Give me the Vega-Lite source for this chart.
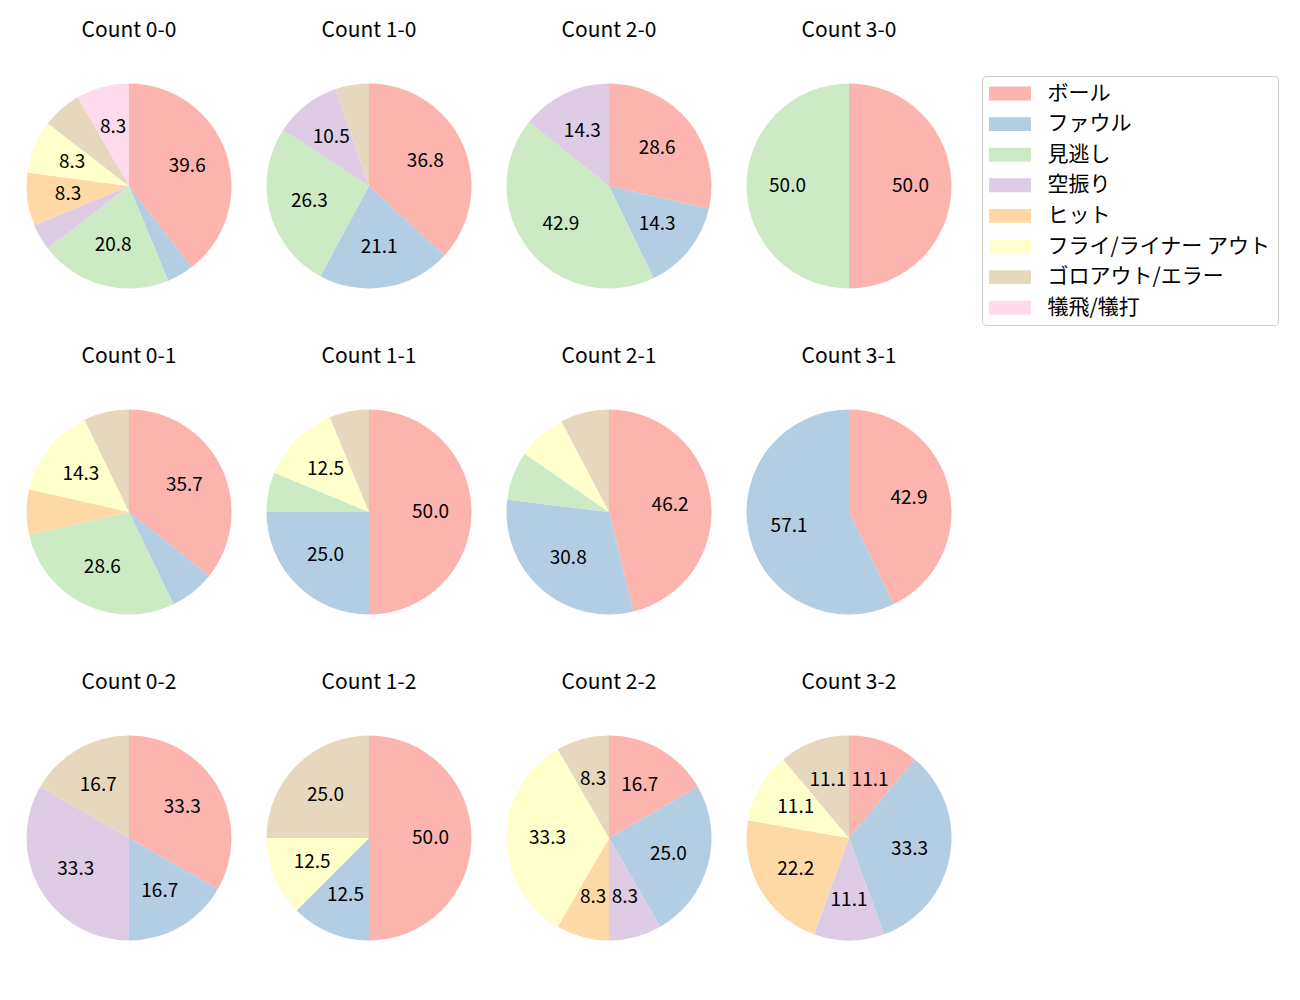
{
  "$schema": "https://vega.github.io/schema/vega-lite/v6.json",
  "padding": {"left": 19, "top": 20, "right": 0, "bottom": 0},
  "data": {"values": [
    {"c": "Count 0-0", "k": "ボール", "n": 19},
    {"c": "Count 0-0", "k": "ファウル", "n": 2},
    {"c": "Count 0-0", "k": "見逃し", "n": 10},
    {"c": "Count 0-0", "k": "空振り", "n": 2},
    {"c": "Count 0-0", "k": "ヒット", "n": 4},
    {"c": "Count 0-0", "k": "フライ/ライナー アウト", "n": 4},
    {"c": "Count 0-0", "k": "ゴロアウト/エラー", "n": 3},
    {"c": "Count 0-0", "k": "犠飛/犠打", "n": 4},
    {"c": "Count 1-0", "k": "ボール", "n": 7},
    {"c": "Count 1-0", "k": "ファウル", "n": 4},
    {"c": "Count 1-0", "k": "見逃し", "n": 5},
    {"c": "Count 1-0", "k": "空振り", "n": 2},
    {"c": "Count 1-0", "k": "ゴロアウト/エラー", "n": 1},
    {"c": "Count 2-0", "k": "ボール", "n": 2},
    {"c": "Count 2-0", "k": "ファウル", "n": 1},
    {"c": "Count 2-0", "k": "見逃し", "n": 3},
    {"c": "Count 2-0", "k": "空振り", "n": 1},
    {"c": "Count 3-0", "k": "ボール", "n": 1},
    {"c": "Count 3-0", "k": "見逃し", "n": 1},
    {"c": "Count 0-1", "k": "ボール", "n": 5},
    {"c": "Count 0-1", "k": "ファウル", "n": 1},
    {"c": "Count 0-1", "k": "見逃し", "n": 4},
    {"c": "Count 0-1", "k": "ヒット", "n": 1},
    {"c": "Count 0-1", "k": "フライ/ライナー アウト", "n": 2},
    {"c": "Count 0-1", "k": "ゴロアウト/エラー", "n": 1},
    {"c": "Count 1-1", "k": "ボール", "n": 8},
    {"c": "Count 1-1", "k": "ファウル", "n": 4},
    {"c": "Count 1-1", "k": "見逃し", "n": 1},
    {"c": "Count 1-1", "k": "フライ/ライナー アウト", "n": 2},
    {"c": "Count 1-1", "k": "ゴロアウト/エラー", "n": 1},
    {"c": "Count 2-1", "k": "ボール", "n": 6},
    {"c": "Count 2-1", "k": "ファウル", "n": 4},
    {"c": "Count 2-1", "k": "見逃し", "n": 1},
    {"c": "Count 2-1", "k": "フライ/ライナー アウト", "n": 1},
    {"c": "Count 2-1", "k": "ゴロアウト/エラー", "n": 1},
    {"c": "Count 3-1", "k": "ボール", "n": 3},
    {"c": "Count 3-1", "k": "ファウル", "n": 4},
    {"c": "Count 0-2", "k": "ボール", "n": 2},
    {"c": "Count 0-2", "k": "ファウル", "n": 1},
    {"c": "Count 0-2", "k": "空振り", "n": 2},
    {"c": "Count 0-2", "k": "ゴロアウト/エラー", "n": 1},
    {"c": "Count 1-2", "k": "ボール", "n": 4},
    {"c": "Count 1-2", "k": "ファウル", "n": 1},
    {"c": "Count 1-2", "k": "フライ/ライナー アウト", "n": 1},
    {"c": "Count 1-2", "k": "ゴロアウト/エラー", "n": 2},
    {"c": "Count 2-2", "k": "ボール", "n": 2},
    {"c": "Count 2-2", "k": "ファウル", "n": 3},
    {"c": "Count 2-2", "k": "空振り", "n": 1},
    {"c": "Count 2-2", "k": "ヒット", "n": 1},
    {"c": "Count 2-2", "k": "フライ/ライナー アウト", "n": 4},
    {"c": "Count 2-2", "k": "ゴロアウト/エラー", "n": 1},
    {"c": "Count 3-2", "k": "ボール", "n": 1},
    {"c": "Count 3-2", "k": "ファウル", "n": 3},
    {"c": "Count 3-2", "k": "空振り", "n": 1},
    {"c": "Count 3-2", "k": "ヒット", "n": 2},
    {"c": "Count 3-2", "k": "フライ/ライナー アウト", "n": 1},
    {"c": "Count 3-2", "k": "ゴロアウト/エラー", "n": 1}
  ]},
  "transform": [
    {"joinaggregate": [{"op": "sum", "field": "n", "as": "total"}], "groupby": ["c"]},
    {"calculate": "datum.n / datum.total * 100", "as": "pct"},
    {"calculate": "datum.pct >= 8 ? format(datum.pct, '.1f') : ''", "as": "lbl"},
    {"calculate": "indexof(['ボール','ファウル','見逃し','空振り','ヒット','フライ/ライナー アウト','ゴロアウト/エラー','犠飛/犠打'], datum.k)", "as": "ord"}
  ],
  "facet": {
    "field": "c", "type": "nominal",
    "sort": ["Count 0-0","Count 1-0","Count 2-0","Count 3-0","Count 0-1","Count 1-1","Count 2-1","Count 3-1","Count 0-2","Count 1-2","Count 2-2","Count 3-2"],
    "header": {"title": null, "labelFont": "Noto Sans CJK JP", "labelFontSize": 21, "labelColor": "#000000", "labelBaseline": "middle", "labelPadding": 24}
  },
  "columns": 4,
  "spacing": {"row": 50, "column": 20},
  "spec": {
    "width": 220,
    "height": 220,
    "layer": [
      {
        "mark": {"type": "arc", "outerRadius": 102.5},
        "encoding": {
          "theta": {"field": "n", "type": "quantitative", "stack": true},
          "order": {"field": "ord", "type": "quantitative"},
          "color": {
            "field": "k", "type": "nominal",
            "scale": {
              "domain": ["ボール","ファウル","見逃し","空振り","ヒット","フライ/ライナー アウト","ゴロアウト/エラー","犠飛/犠打"],
              "range": ["#fbb4ae","#b3cde3","#ccebc5","#decbe4","#fed9a6","#ffffcc","#e5d8bd","#fddaec"]
            },
            "legend": {
              "title": null,
              "orient": "right",
              "offset": 23,
              "symbolType": "M-1,-0.66H3V0.66H-1Z",
              "symbolSize": 441,
              "symbolStrokeWidth": 0,
              "labelFont": "Noto Sans CJK JP",
              "labelFontSize": 21,
              "labelColor": "#000000",
              "labelOffset": 37.5,
              "labelLimit": 500,
              "rowPadding": 8.6,
              "padding": 7,
              "strokeColor": "#cccccc",
              "cornerRadius": 4,
              "fillColor": "#ffffff"
            }
          }
        }
      },
      {
        "mark": {"type": "text", "radius": 61.5, "font": "Noto Sans CJK JP", "fontSize": 19, "color": "#000000"},
        "encoding": {
          "theta": {"field": "n", "type": "quantitative", "stack": true},
          "order": {"field": "ord", "type": "quantitative"},
          "text": {"field": "lbl", "type": "nominal"}
        }
      }
    ]
  },
  "resolve": {"scale": {"theta": "independent"}},
  "config": {"view": {"stroke": null}}
}
